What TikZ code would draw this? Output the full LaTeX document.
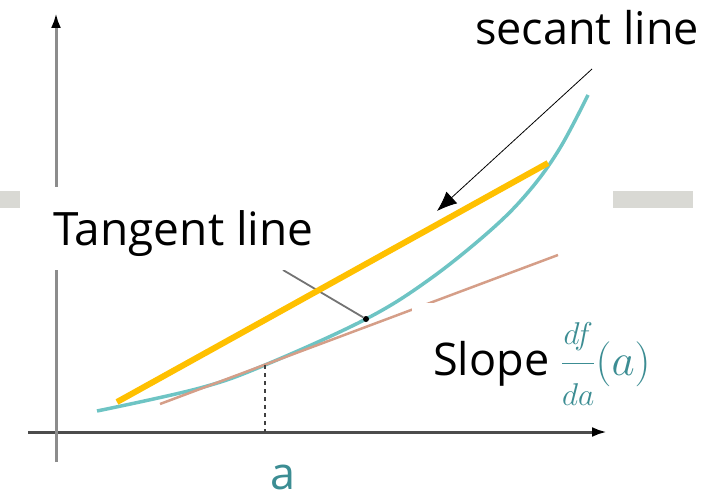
\RequirePackage{fix-cm}
\documentclass[tikz,border=0pt]{standalone}
\usepackage{amsmath}
\usepackage{fontspec}
\setmainfont{Open Sans}
\usepackage{tikz}
\usetikzlibrary{arrows.meta, positioning}
\definecolor{teal1}{HTML}{3C8D93}
\definecolor{curvec}{HTML}{6EC4C4}
\definecolor{tanc}{HTML}{D59E88}
\definecolor{secc}{HTML}{FFC000}
\definecolor{barc}{HTML}{D9D9D4}
\tikzset{
  ax/.style={line width=3pt, black!45, -{Latex[length=15pt, width=10pt, black]}},
  crv/.style={line width=3.5pt, curvec},
  tanl/.style={line width=2.5pt, tanc},
  sec/.style={line width=6pt, secc},
  ptr/.style={line width=1.8pt, black!55},
  lbl/.style={inner sep=0pt, font=\fontsize{45}{54}\selectfont},
  bar/.style={fill=barc},
}

\begin{document}
\begin{tikzpicture}[x=1pt, y=-1pt]
  \useasboundingbox (0,0) rectangle (722,500);
  % axes
  \coordinate (xs) at (28,432);
  \coordinate (xe) at (607,432);
  \coordinate (ys) at (56,462);
  \coordinate (ye) at (56,13);
  \draw[ax, black!70] (xs) -- (xe);
  \draw[ax] (ys) -- (ye);
  % function and tangent
  \draw[crv] plot[smooth, tension=0.6] coordinates {(97,411) (200,388) (265,365)
    (366,319) (430,279) (492,229) (530,190) (560,148) (588,95)};
  \coordinate (t0) at (160,404);
  \coordinate (t1) at (558,255);
  \draw[tanl] (t0) -- (t1);
  \coordinate (p) at (265,365);
  \coordinate (pa) at (265,432);
  \draw[line width=2pt, black!75, dash pattern=on 4pt off 4pt] (p) -- (pa);
  \coordinate (q0) at (283,270);
  \node[circle, fill=black, inner sep=0pt, minimum size=6pt] (q) at (366,319) {};
  \draw[ptr] (q0) -- (q);
  % labels
  \node[lbl, anchor=base west, fill=white, inner xsep=33pt, inner ysep=15pt,
        text height=43pt, text depth=10pt, font=\fontsize{46}{54}\selectfont]
        (tl) at (20,245) {Tangent line};
  \node[lbl, anchor=base west, fill=white, inner xsep=21pt, inner ysep=18pt,
        text height=54pt, text depth=30pt] (sl) at (412,375)
        {Slope \textcolor{teal1}{$\displaystyle\frac{\scriptstyle df}{\scriptstyle da}(a)$}};
  \node[lbl, anchor=base west] (sc) at (475,45) {secant line};
  \node[lbl, anchor=base, teal1] (la) at (283,489) {a};
  \fill[bar] (0,191) rectangle (20,208);
  \fill[bar] (613,191) rectangle (693,208);
  % secant
  \coordinate (s0) at (117,402);
  \coordinate (s1) at (548,163);
  \draw[sec] (s0) -- (s1);
  \coordinate (r0) at (592,69);
  \coordinate (r1) at (437,211);
  \draw[line width=0.8pt, -{Latex[length=20pt, width=16pt]}] (r0) -- (r1);
\end{tikzpicture}
\end{document}
